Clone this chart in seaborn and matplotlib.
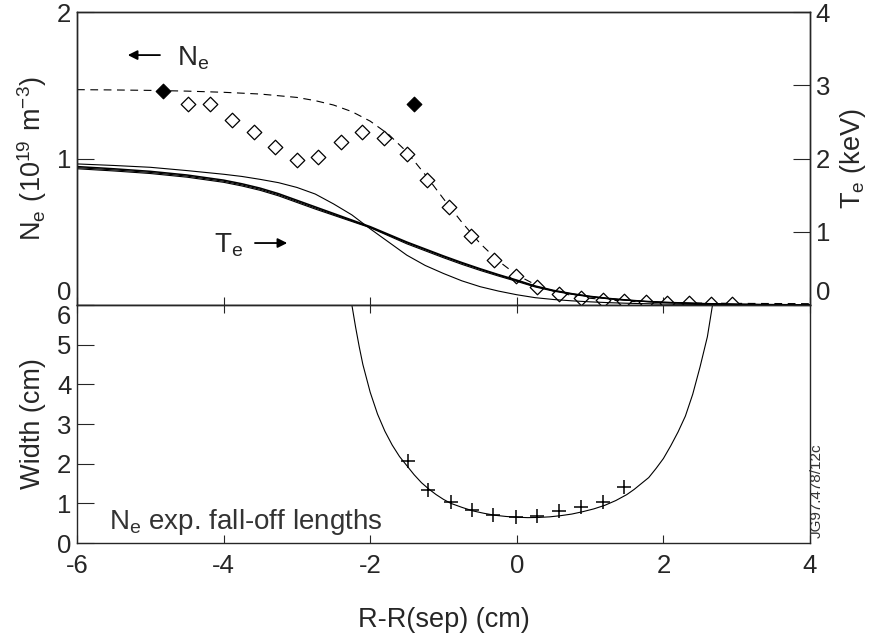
import matplotlib
matplotlib.use("Agg")
import matplotlib.pyplot as plt
import seaborn as sns

# Ne profile: fitted (dashed) curve and measured points
ne_fit_x = [-6, -5.5, -5, -4.5, -4, -3.5, -3, -2.75, -2.5, -2.25, -2, -1.75, -1.5, -1.25, -1,
            -0.75, -0.5, -0.25, 0, 0.25, 0.5, 0.75, 1, 1.25, 1.5, 2, 2.5, 3, 3.5, 4]
ne_fit_y = [1.47, 1.468, 1.465, 1.46, 1.452, 1.44, 1.417, 1.395, 1.365, 1.32, 1.255, 1.165, 1.045,
            0.89, 0.725, 0.565, 0.42, 0.30, 0.205, 0.14, 0.095, 0.065, 0.046, 0.034, 0.026,
            0.017, 0.013, 0.011, 0.010, 0.009]

ne_open_x = [-4.48, -4.19, -3.89, -3.59, -3.30, -3.00, -2.71, -2.40, -2.11, -1.81, -1.50, -1.22,
             -0.925, -0.62, -0.31, -0.015, 0.28, 0.58, 0.87, 1.17, 1.46, 1.76, 2.05, 2.35, 2.65, 2.94]
ne_open_y = [1.374, 1.37, 1.26, 1.18, 1.08, 0.99, 1.01, 1.11, 1.18, 1.14, 1.03, 0.85,
             0.667, 0.47, 0.307, 0.198, 0.125, 0.073, 0.05, 0.034, 0.03, 0.023, 0.016, 0.016, 0.01, 0.007]

ne_filled_x = [-4.83, -1.40]
ne_filled_y = [1.46, 1.37]

# Te profiles (keV, right axis)
te_x = [-6, -5.5, -5, -4.5, -4, -3.75, -3.5, -3.25, -3, -2.75, -2.5, -2.25, -2, -1.75, -1.5,
        -1.25, -1, -0.75, -0.5, -0.25, 0, 0.25, 0.5, 0.75, 1, 1.25, 1.5, 1.75, 2, 2.5, 3, 3.5, 4]
te_a = [1.89, 1.86, 1.825, 1.775, 1.705, 1.655, 1.595, 1.52, 1.43, 1.34, 1.25, 1.16, 1.07, 0.965,
        0.86, 0.765, 0.67, 0.58, 0.495, 0.415, 0.34, 0.26, 0.20, 0.155, 0.118, 0.09, 0.068, 0.05,
        0.037, 0.02, 0.01, 0.005, 0.002]
te_b = [1.875, 1.845, 1.81, 1.76, 1.69, 1.64, 1.58, 1.505, 1.415, 1.325, 1.237, 1.15, 1.06, 0.955,
        0.85, 0.755, 0.66, 0.57, 0.487, 0.408, 0.333, 0.255, 0.196, 0.152, 0.116, 0.088, 0.067, 0.049,
        0.036, 0.02, 0.01, 0.005, 0.002]
te_c = [1.86, 1.83, 1.795, 1.745, 1.675, 1.625, 1.565, 1.49, 1.40, 1.31, 1.225, 1.14, 1.055, 0.945,
        0.835, 0.74, 0.645, 0.555, 0.472, 0.395, 0.322, 0.246, 0.189, 0.146, 0.111, 0.084, 0.064, 0.047,
        0.034, 0.019, 0.009, 0.004, 0.002]
te_d = [1.926, 1.905, 1.88, 1.835, 1.785, 1.755, 1.715, 1.67, 1.605, 1.515, 1.38, 1.23, 1.04, 0.86,
        0.68, 0.54, 0.43, 0.33, 0.25, 0.19, 0.14, 0.10, 0.075, 0.057, 0.043, 0.032, 0.024, 0.018,
        0.013, 0.007, 0.004, 0.002, 0.001]

# Ne exponential fall-off lengths (cm)
width_fit_x = [-2.25, -2.2, -2.15, -2.1, -2.0, -1.9, -1.8, -1.7, -1.6, -1.5, -1.4, -1.3, -1.2, -1.1,
               -1.0, -0.9, -0.75, -0.6, -0.45, -0.3, -0.15, 0, 0.15, 0.3, 0.45, 0.6, 0.75, 0.9,
               1.05, 1.2, 1.35, 1.5, 1.6, 1.7, 1.8, 1.9, 2.0, 2.1, 2.2, 2.3, 2.4, 2.5, 2.6, 2.67]
width_fit_y = [6.0, 5.45, 4.95, 4.5, 3.8, 3.25, 2.82, 2.47, 2.18, 1.95, 1.72, 1.52, 1.36, 1.22,
               1.1, 1.0, 0.9, 0.81, 0.75, 0.70, 0.67, 0.65, 0.64, 0.645, 0.66, 0.69, 0.73, 0.79,
               0.86, 0.95, 1.07, 1.22, 1.35, 1.5, 1.65, 1.88, 2.13, 2.45, 2.8, 3.2, 3.75, 4.44, 5.2, 6.0]
width_x = [-1.49, -1.21, -0.90, -0.61, -0.32, -0.01, 0.28, 0.58, 0.87, 1.17, 1.46]
width_y = [2.07, 1.34, 1.03, 0.84, 0.71, 0.66, 0.69, 0.81, 0.92, 1.04, 1.42]

x_ticks = [-6, -4, -2, 0, 2, 4]

sns.set_style("ticks")
plt.rcParams['font.family'] = ['Liberation Sans', 'DejaVu Sans']
plt.rcParams['mathtext.default'] = 'regular'
plt.rcParams['axes.unicode_minus'] = False

TICK_FS = 18.5
LABEL_FS = 19.5

fig = plt.figure(figsize=(8.72, 6.39), dpi=100)
ax_top = fig.add_axes([0.0883, 0.5227, 0.8406, 0.4585])
ax_bot = fig.add_axes([0.0883, 0.1502, 0.8406, 0.3725])
ax_te = ax_top.twinx()

# top panel: density
sns.lineplot(x=ne_fit_x, y=ne_fit_y, ax=ax_top, color='black', lw=0.8,
             linestyle=(0, (7, 5)), estimator=None, sort=False)
sns.scatterplot(x=ne_open_x, y=ne_open_y, ax=ax_top, marker='D', s=55,
                facecolor='white', edgecolor='black', linewidth=0.9, zorder=3)
sns.scatterplot(x=ne_filled_x, y=ne_filled_y, ax=ax_top, marker='D', s=55,
                color='black', edgecolor='black', linewidth=0.9, zorder=3)

# temperature curves
for te, lw in [(te_a, 1.1), (te_b, 0.8), (te_c, 0.8), (te_d, 0.8)]:
    sns.lineplot(x=te_x, y=te, ax=ax_te, color='black', lw=lw, estimator=None, sort=False)

ax_top.set_xlim(-6, 4)
ax_top.set_ylim(0, 2)
ax_te.set_ylim(0, 4)
ax_top.set_xticks(x_ticks)
ax_top.set_yticks([0, 1, 2])
ax_te.set_yticks([0, 1, 2, 3, 4])
ax_top.tick_params(axis='x', direction='in', length=6, width=0.8, labelbottom=False)
ax_top.tick_params(axis='y', direction='in', length=12, width=0.8, labelsize=TICK_FS, pad=4)
ax_te.tick_params(axis='y', direction='in', length=12, width=0.8, labelsize=TICK_FS, pad=4)
ax_top.set_ylabel(r'$N_e\ (10^{19}\ m^{-3})$', fontsize=LABEL_FS, labelpad=6)
ax_te.set_ylabel(r'$T_e$ (keV)', fontsize=LABEL_FS, labelpad=6)

# in-plot labels with arrows
ax_top.annotate('', xy=(-5.345, 1.706), xytext=(-4.83, 1.706),
                arrowprops=dict(arrowstyle='-|>', color='black', lw=1.3, mutation_scale=14))
ax_top.text(-4.636, 1.638, r'$N_e$', fontsize=20, va='baseline')
ax_top.text(-4.13, 0.355, r'$T_e$', fontsize=20, va='baseline')
ax_top.annotate('', xy=(-3.094, 0.423), xytext=(-3.61, 0.423),
                arrowprops=dict(arrowstyle='-|>', color='black', lw=1.3, mutation_scale=14))

# bottom panel: fall-off lengths
sns.lineplot(x=width_fit_x, y=width_fit_y, ax=ax_bot, color='black', lw=0.8,
             estimator=None, sort=False)
sns.scatterplot(x=width_x, y=width_y, ax=ax_bot, marker='+', s=110,
                color='black', linewidth=1.1, zorder=3)
ax_bot.set_xlim(-6, 4)
ax_bot.set_ylim(0, 6)
ax_bot.set_xticks(x_ticks)
ax_bot.set_yticks([0, 1, 2, 3, 4, 5, 6])
ax_bot.tick_params(axis='x', direction='in', length=6, width=0.8, top=True,
                   labelsize=TICK_FS, pad=8)
ax_bot.tick_params(axis='y', direction='in', length=12, width=0.8, labelsize=TICK_FS, pad=4)
ax_bot.set_ylabel('Width (cm)', fontsize=LABEL_FS, labelpad=8)
ax_bot.set_xlabel('R-R(sep) (cm)', fontsize=LABEL_FS, labelpad=21)
ax_bot.text(-5.563, 0.353, r'$N_e$ exp. fall-off lengths', fontsize=20, color='#333333',
            va='baseline')
fig.text(0.937, 1 - 538 / 639, 'JG97.478/12c', rotation=90, fontsize=11, color='#333333',
         ha='center', va='bottom')

# keep the shared 0 / 6 labels from sitting on top of each other
fig.canvas.draw()
ax_top.get_yticklabels()[0].set_va('bottom')
ax_te.get_yticklabels()[0].set_va('bottom')
ax_bot.get_yticklabels()[-1].set_va('top')

for ax in (ax_top, ax_bot, ax_te):
    for sp in ax.spines.values():
        sp.set_visible(True)
        sp.set_linewidth(1.0)

fig.savefig('out.png', dpi=100)
